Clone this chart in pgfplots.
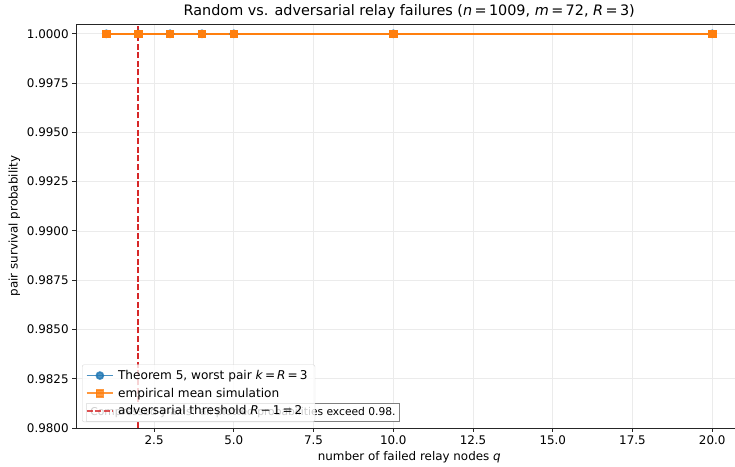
\documentclass[border=0pt]{standalone}
\usepackage{pgfplots}
\pgfplotsset{compat=1.18}
\usepackage{fontspec}
\setmainfont{DejaVu Sans}

\definecolor{mplblue}{HTML}{1F77B4}
\definecolor{mplorange}{HTML}{FF7F0E}
\definecolor{mplred}{HTML}{D62728}
\definecolor{gridgray}{HTML}{EBEBEB}

\pgfplotstableread{
q   theorem  sim
1   1.0      1.0
2   1.0      1.0
3   1.0      1.0
4   1.0      1.0
5   1.0      1.0
10  1.0      1.0
20  1.0      1.0
}\survival

\begin{document}
\begin{tikzpicture}
\begin{axis}[
  name=ax,
  scale only axis,
  width=666.5pt, height=404pt,
  xmin=0.05, xmax=20.95,
  ymin=0.98, ymax=1.0005,
  xtick={2.5,5,...,20},
  ytick={0.98,0.9825,0.985,0.9875,0.99,0.9925,0.995,0.9975,1.0},
  x tick label style={/pgf/number format/.cd, fixed, fixed zerofill, precision=1},
  y tick label style={/pgf/number format/.cd, fixed, fixed zerofill, precision=4},
  /pgf/number format/assume math mode=true,
  scaled y ticks=false,
  tick label style={font=\fontsize{11.9}{14}\selectfont},
  label style={font=\fontsize{11.9}{14}\selectfont},
  tick align=outside,
  tick pos=left,
  major tick length=3.85pt,
  axis line style={line width=0.88pt, black!85},
  every tick/.style={black!85, line width=0.88pt},
  grid=major,
  major grid style={gridgray, line width=0.8pt},
  xlabel={number of failed relay nodes \textit{q}},
  ylabel={pair survival probability},
  title={Random vs. adversarial relay failures (\textit{n}\,=\,1009, \textit{m}\,=\,72, \textit{R}\,=\,3)},
  title style={font=\fontsize{14.4}{17}\selectfont, yshift=-4pt},
  legend cell align=left,
  legend style={at={(axis description cs:0,0)}, anchor=south west,
    xshift=6pt, yshift=6pt,
    font=\fontsize{12.1}{14}\selectfont,
    fill=white, fill opacity=0.8, draw opacity=0.8, text opacity=1,
    draw=black!20, rounded corners=2pt,
    row sep=3pt, inner sep=3.5pt,
    nodes={inner xsep=4pt}},
  legend image code/.code={
    \draw[mark repeat=2, mark phase=2] plot coordinates {(0cm,0cm) (0.47cm,0cm) (0.94cm,0cm)};},
]
\addplot[mplblue, line width=1.65pt, mark=*, mark size=3.5pt] table[x=q, y=theorem] {\survival};
\addlegendentry{Theorem 5, worst pair \textit{k}\,=\,\textit{R}\,=\,3}
\addplot[mplorange, line width=1.65pt, mark=square*, mark size=3.5pt] table[x=q, y=sim] {\survival};
\addlegendentry{empirical mean simulation}
\addplot[mplred, line width=1.65pt, dash pattern=on 6pt off 2.6pt] coordinates {(2,0.98) (2,1.0005)};
\addlegendentry{adversarial threshold \textit{R}\,−\,1\,=\,2}
\node[anchor=south west, draw=black!50, fill=white, line width=0.8pt,
  font=\fontsize{10.7}{12}\selectfont, inner sep=4pt]
  at ([xshift=10pt, yshift=6pt]rel axis cs:0,0) {Compressed y-axis: all plotted probabilities exceed 0.98.};
\end{axis}
\pgfresetboundingbox
\path ([xshift=-76pt, yshift=-38pt]ax.south west) rectangle ([xshift=-7.5pt, yshift=24pt]ax.north east);
\end{tikzpicture}
\end{document}
